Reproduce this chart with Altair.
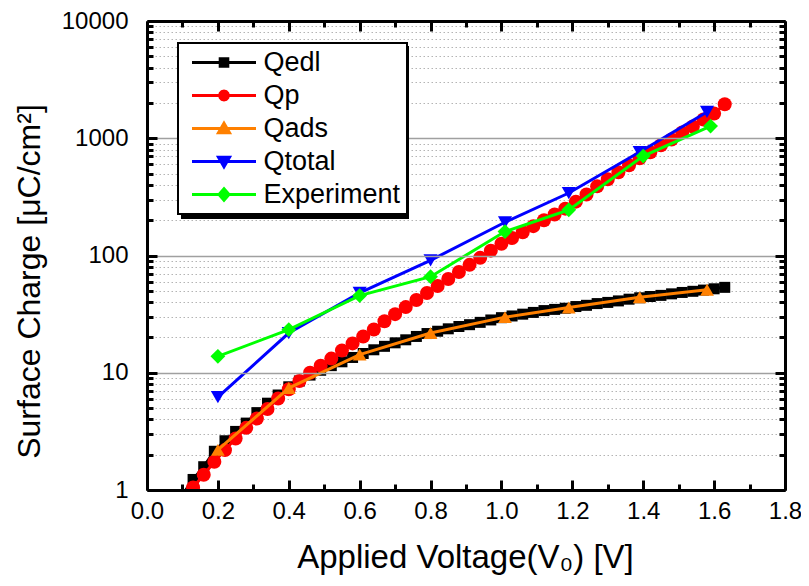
import altair as alt
import pandas as pd

FONT = "Liberation Sans"

series_names = ["Qedl", "Qp", "Qads", "Qtotal", "Experiment"]
series_colors = ["#000000", "#FF0000", "#FF8000", "#0000FF", "#00FF00"]
series_shapes = ["square", "circle", "triangle-up", "triangle-down", "diamond"]
series_sizes = [121, 196, 190, 200, 220]

# dense model curves
dense_v = [0.10, 0.13, 0.16, 0.19, 0.22, 0.25, 0.28, 0.31, 0.34, 0.37, 0.40, 0.43,
           0.46, 0.49, 0.52, 0.55, 0.58, 0.61, 0.64, 0.67, 0.70, 0.73, 0.76, 0.79,
           0.82, 0.85, 0.88, 0.91, 0.94, 0.97, 1.00, 1.03, 1.06, 1.09, 1.12, 1.15,
           1.18, 1.21, 1.24, 1.27, 1.30, 1.33, 1.36, 1.39, 1.42, 1.45, 1.48, 1.51,
           1.54, 1.57, 1.60, 1.63]
qedl = [0.91, 1.23, 1.58, 2.14, 2.63, 3.16, 3.72, 4.57, 5.50, 6.46, 7.59, 8.51,
        9.55, 10.5, 11.5, 12.4, 13.5, 14.6, 15.7, 16.8, 18.0, 19.1, 20.4, 21.6,
        22.6, 23.7, 24.8, 25.7, 26.9, 28.2, 29.5, 30.5, 31.6, 32.7, 33.9, 34.7,
        35.5, 36.7, 37.6, 38.9, 39.8, 41.0, 42.4, 43.6, 44.7, 45.7, 47.1, 48.4,
        49.5, 50.7, 52.0, 53.5]
qp = [0.81, 1.05, 1.35, 1.74, 2.19, 2.75, 3.39, 4.07, 4.90, 6.03, 7.24, 8.51,
      10.0, 11.5, 13.2, 15.5, 17.8, 20.4, 23.4, 27.5, 31.6, 36.3, 41.7, 47.9,
      55.0, 63.1, 72.4, 83.2, 95.5, 110, 126, 141, 158, 178, 200, 224,
      251, 288, 331, 389, 447, 513, 589, 676, 759, 871, 977, 1122,
      1259, 1445, 1622, 1950]

# sparse series
sparse_v = [0.20, 0.40, 0.60, 0.80, 1.01, 1.19, 1.39, 1.58]
qads = [2.2, 7.4, 14.3, 21.8, 29.8, 36.0, 44.0, 51.0]
qtotal = [6.2, 21.8, 48.0, 91.0, 192, 341, 763, 1675]
exp_v = [0.20, 0.40, 0.60, 0.80, 1.01, 1.19, 1.40, 1.59]
experiment = [13.8, 23.3, 45.5, 66.0, 160, 245, 705, 1270]

x_major = [0.0, 0.2, 0.4, 0.6, 0.8, 1.0, 1.2, 1.4, 1.6, 1.8]
x_minor = [0.1, 0.3, 0.5, 0.7, 0.9, 1.1, 1.3, 1.5, 1.7]
y_major = [1, 10, 100, 1000, 10000]
y_minor = [2, 3, 4, 5, 6, 7, 8, 9, 20, 30, 40, 50, 60, 70, 80, 90,
           200, 300, 400, 500, 600, 700, 800, 900,
           2000, 3000, 4000, 5000, 6000, 7000, 8000, 9000]

W, H = 638, 469

frames = {
    "Qedl": pd.DataFrame({"v": dense_v, "q": qedl, "series": "Qedl"}),
    "Qp": pd.DataFrame({"v": dense_v, "q": qp, "series": "Qp"}),
    "Qads": pd.DataFrame({"v": sparse_v, "q": qads, "series": "Qads"}),
    "Qtotal": pd.DataFrame({"v": sparse_v, "q": qtotal, "series": "Qtotal"}),
    "Experiment": pd.DataFrame({"v": exp_v, "q": experiment, "series": "Experiment"}),
}

xscale = alt.Scale(domain=[0, 1.8], nice=False, zero=False)
yscale = alt.Scale(type="log", domain=[1, 10000], nice=False)

tick_common = dict(labels=False, grid=False, title=None, tickColor="black", tickWidth=3, zindex=1)

Xa = alt.Axis(orient="bottom", values=x_major, format=".1f", labelFontSize=24, labelFont=FONT,
              labelColor="black", labelPadding=9, labelFlush=False, labelOverlap=False,
              ticks=False, tickSize=0, domain=True, domainColor="black", domainWidth=3,
              grid=False, title="Applied Voltage(V\u2080) [V]", titleFontSize=33, titleFont=FONT,
              titleFontWeight="normal", titleColor="black", titleX=318, titleY=77,
              titleBaseline="alphabetic", titleAlign="center", zindex=1)
Ya = alt.Axis(orient="left", values=y_major, format="d", labelFontSize=24, labelFont=FONT,
              labelColor="black", labelPadding=19, labelFlush=False, labelOverlap=False,
              ticks=False, tickSize=0, domain=True, domainColor="black", domainWidth=3,
              grid=True, gridColor="#a0a0a0", gridWidth=1.3,
              title="Surface Charge [\u03bcC/cm\u00b2]", titleFontSize=32, titleFont=FONT,
              titleFontWeight="normal", titleColor="black", titleX=-101, titleY=260,
              titleAngle=270, titleBaseline="bottom", titleAlign="center", zindex=1)
Xb = alt.Axis(orient="top", offset=-H, values=x_major, tickSize=10, domain=False, **tick_common)
Xc = alt.Axis(orient="top", offset=-H, values=x_minor, tickSize=6, domain=False, **tick_common)
Xd = alt.Axis(orient="bottom", offset=-H, values=x_major, tickSize=10, domain=True,
              domainColor="black", domainWidth=3, **tick_common)
Xe = alt.Axis(orient="bottom", offset=-H, values=x_minor, tickSize=6, domain=False, **tick_common)
Yb = alt.Axis(orient="right", offset=-W, values=y_major, tickSize=10, domain=False, **tick_common)
Yc = alt.Axis(orient="right", offset=-W, values=y_minor, tickSize=6, domain=False, **tick_common)
Yd = alt.Axis(orient="left", values=y_minor, labels=False, ticks=False, domain=False, grid=True,
              gridDash=[1.5, 2.5], gridColor="#b4b4b4", gridWidth=1, title=None)
Ye = alt.Axis(orient="left", offset=-W, values=y_major, tickSize=10, domain=True,
              domainColor="black", domainWidth=3, **tick_common)
Yf = alt.Axis(orient="left", offset=-W, values=y_minor, tickSize=6, domain=False, **tick_common)

# legend symbols: line segment plus marker, as custom paths
legend_paths = [
    "M-3.2,0H3.2M-0.38,-0.38H0.38V0.38H-0.38Z",
    "M-3.2,0H3.2M0.44,0L0.38,0.22L0.22,0.38L0,0.44L-0.22,0.38L-0.38,0.22L-0.44,0"
    "L-0.38,-0.22L-0.22,-0.38L0,-0.44L0.22,-0.38L0.38,-0.22Z",
    "M-3.2,0H3.2M0,-0.52L0.55,0.42L-0.55,0.42Z",
    "M-3.2,0H3.2M0,0.52L0.55,-0.42L-0.55,-0.42Z",
    "M-3.2,0H3.2M0,-0.58L0.5,0L0,0.58L-0.5,0Z",
]
shadow_names = [n + " " for n in series_names]

legend_common = dict(
    orient="none", title=None,
    labelFontSize=27, labelFont=FONT, labelColor="black",
    symbolOffset=26.5, rowPadding=5, padding=6,
    symbolSize=400, symbolStrokeWidth=3, symbolOpacity=1,
)
legend = alt.Legend(legendX=31, legendY=22, fillColor="white", strokeColor="black",
                    labelOffset=26, zindex=3, **legend_common)
# shadow: same box, empty labels, width kept by a larger label offset
shadow_legend = alt.Legend(legendX=35, legendY=26, fillColor="black", strokeColor="black",
                           labelExpr="''", labelOffset=160, zindex=2, **legend_common)

axes_plan = [(Xa, Ya), (Xb, Yb), (Xc, Yc), (Xd, Yd), (Xe, Ye), (None, Yf),
             (None, None), (None, None), (None, None), (None, None)]

layers = []
i = 0
for k, name in enumerate(series_names):
    df = frames[name]
    for kind in ["line", "point"]:
        xa, ya = axes_plan[i]
        i += 1
        if kind == "line":
            mark = alt.Chart(df).mark_line(strokeWidth=3, clip=True, color=series_colors[k])
        else:
            mark = alt.Chart(df).mark_point(filled=True, opacity=1, shape=series_shapes[k],
                                            size=series_sizes[k], strokeWidth=0, clip=True,
                                            color=series_colors[k])
        layers.append(mark.encode(
            x=alt.X("v:Q", scale=xscale, axis=xa),
            y=alt.Y("q:Q", scale=yscale, axis=ya),
            order=alt.Order("v:Q"),
        ))

# shadow box behind the legend
shadow_layer = alt.Chart(frames["Experiment"]).transform_filter("false").transform_calculate(
    series2="datum.series + ' '"
).mark_point(filled=True, opacity=1, clip=True).encode(
    x=alt.X("v:Q", scale=xscale, axis=None),
    y=alt.Y("q:Q", scale=yscale, axis=None),
    color=alt.Color("series2:N", scale=alt.Scale(domain=shadow_names, range=["black"] * 5),
                    legend=shadow_legend),
)
layers.append(shadow_layer)

# layer without drawn rows that only carries the legend (line + marker symbols)
legend_layer = alt.Chart(frames["Experiment"]).transform_filter("false").mark_point(
    filled=True, opacity=1, strokeWidth=3, clip=True
).encode(
    x=alt.X("v:Q", scale=xscale, axis=None),
    y=alt.Y("q:Q", scale=yscale, axis=None),
    fill=alt.Fill("series:N", scale=alt.Scale(domain=series_names, range=series_colors), legend=legend),
    stroke=alt.Stroke("series:N", scale=alt.Scale(domain=series_names, range=series_colors), legend=legend),
    shape=alt.Shape("series:N", scale=alt.Scale(domain=series_names, range=legend_paths), legend=legend),
)
layers.append(legend_layer)

chart = alt.layer(*layers).resolve_axis(x="independent", y="independent").properties(
    width=W, height=H,
    padding={"left": 139, "top": 13, "right": 16, "bottom": 88},
    autosize=alt.AutoSizeParams(type="none"),
    background="white",
).configure_view(stroke=None).configure_legend(strokeWidth=2)

chart.save("out.html", embed_options={"renderer": "svg", "actions": False})
